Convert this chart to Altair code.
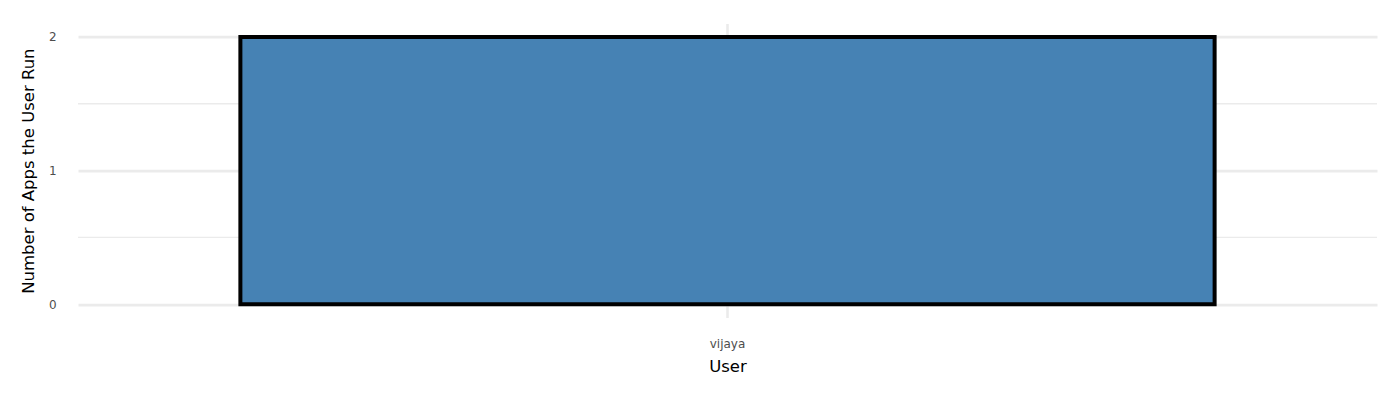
import altair as alt
import pandas as pd

users = ["vijaya"]
app_counts = [2]
major_ticks = [0, 1, 2]
minor_ticks = [0.5, 1.5]

bars = pd.DataFrame({"User": users, "Apps": app_counts})
minor = pd.DataFrame({"v": minor_ticks})

FONT = "DejaVu Sans"
yscale = alt.Scale(domain=[-0.1, 2.1], nice=False, zero=False)
xscale = alt.Scale(paddingInner=0.25, paddingOuter=0.125)

yaxis = alt.Axis(
    title="Number of Apps the User Run", values=major_ticks, format="d",
    grid=True, gridColor="#EBEBEB", gridWidth=2.6, ticks=False, domain=False,
    labelPadding=22, labelFontSize=12, labelColor="#4D4D4D", labelFont=FONT,
    titleFont=FONT, titleFontSize=16.5, titleFontWeight="normal",
    titleColor="black", titlePadding=12)

minor_grid = alt.Chart(minor).mark_rule(color="#EBEBEB", strokeWidth=1.4).encode(
    y=alt.Y("v:Q", scale=yscale, axis=yaxis)
)

bar = alt.Chart(bars).mark_bar(
    color="#4682B4", stroke="black", strokeWidth=4, strokeJoin="miter"
).encode(
    x=alt.X("User:N", scale=xscale, axis=alt.Axis(
        title="User", labelAngle=0, grid=True, gridColor="#EBEBEB", gridWidth=2.6,
        ticks=False, domain=False, labelPadding=21, labelFontSize=12,
        labelColor="#4D4D4D", labelFont=FONT, titleFont=FONT, titleFontSize=16.5,
        titleFontWeight="normal", titleColor="black", titlePadding=9)),
    y=alt.Y("Apps:Q", scale=yscale, axis=yaxis),
)

chart = (minor_grid + bar).properties(
    width=1299, height=294,
    autosize=alt.AutoSizeParams(type="none"),
    padding={"left": 70, "top": 15.6, "right": 15, "bottom": 74},
).configure_view(stroke=None)

chart.save("out.html", embed_options={"renderer": "svg", "actions": False})
